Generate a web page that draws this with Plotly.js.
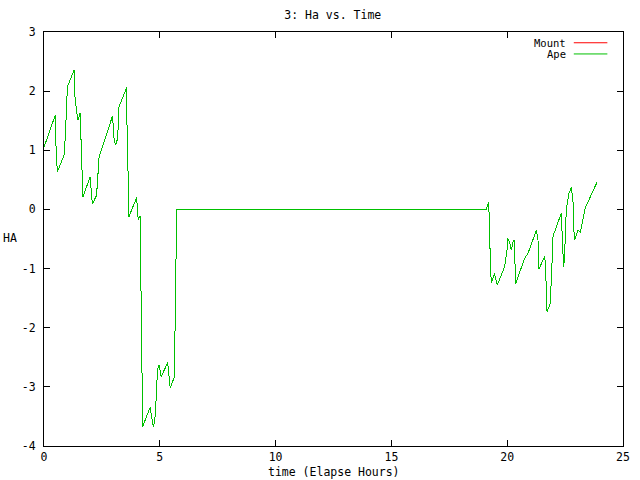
<!DOCTYPE html>
<html>
<head>
<meta charset="utf-8">
<script src="https://cdn.plot.ly/plotly-3.0.1.min.js"></script>
<style>
html,body{margin:0;padding:0;background:#fff;}
#chart{width:640px;height:480px;}
#chart .js-line{shape-rendering:crispEdges;}
</style>
</head>
<body>
<div id="chart"></div>
<script>
// time (elapsed hours)
const apeTime = [0.00,0.49,0.50,0.53,0.58,0.87,0.92,0.98,1.01,1.30,1.33,1.42,1.47,1.56,1.59,1.65,1.68,1.99,2.02,2.09,2.27,2.34,2.38,2.95,2.99,3.03,3.09,3.18,3.24,3.57,3.58,3.64,3.67,4.00,4.07,4.15,4.17,4.22,4.26,4.58,4.68,4.72,4.77,4.82,4.87,4.91,4.97,5.06,5.34,5.37,5.41,5.45,5.63,5.66,5.71,5.73,19.09,19.16,19.21,19.22,19.27,19.31,19.45,19.52,19.57,19.89,19.93,19.99,20.03,20.10,20.18,20.25,20.31,20.33,20.36,20.75,20.90,21.26,21.33,21.37,21.62,21.66,21.69,21.72,21.86,21.90,21.95,21.98,22.34,22.38,22.44,22.48,22.53,22.59,22.67,22.77,22.84,22.87,22.91,23.06,23.16,23.35,23.40,23.89];
const apeHA = [1.05,1.60,1.37,0.89,0.64,0.92,1.23,1.79,2.07,2.36,1.93,1.62,1.51,1.63,1.29,0.58,0.21,0.55,0.41,0.09,0.24,0.72,0.89,1.57,1.43,1.17,1.09,1.20,1.74,2.06,1.51,0.43,-0.12,0.20,-0.18,-0.11,-1.00,-2.77,-3.67,-3.35,-3.59,-3.67,-3.61,-3.39,-2.94,-2.69,-2.63,-2.83,-2.59,-2.74,-2.90,-3.02,-2.83,-2.10,-0.69,0.00,0.00,0.06,0.12,-0.24,-0.91,-1.25,-1.08,-1.19,-1.28,-0.97,-0.86,-0.69,-0.49,-0.55,-0.69,-0.55,-0.52,-1.02,-1.26,-0.83,-0.74,-0.35,-0.52,-1.01,-0.79,-1.01,-1.48,-1.73,-1.59,-1.31,-0.77,-0.45,-0.06,-0.52,-0.98,-0.77,-0.18,0.10,0.28,0.37,0.16,-0.29,-0.52,-0.35,-0.38,-0.01,0.05,0.47];
const mountTime = apeTime.slice();
const mountHA = apeHA.slice();
const xTickVals = [0,5,10,15,20,25];
const yTickVals = [-4,-3,-2,-1,0,1,2,3];

const FONT = "DejaVu Sans Mono, monospace";
const traces = [
  {x: mountTime, y: mountHA, mode: 'lines', name: 'Mount', line: {color: '#ff0000', width: 1}},
  {x: apeTime, y: apeHA, mode: 'lines', name: 'Ape', line: {color: '#00c000', width: 1}}
];
const axisCommon = {
  showgrid: false, zeroline: false, showline: true, linecolor: '#000', linewidth: 1,
  mirror: 'ticks', ticks: 'inside', ticklen: 6, tickcolor: '#000', tickwidth: 1,
  tickfont: {family: FONT, size: 11.5, color: '#000'}, tickmode: 'array'
};
const layout = {
  width: 640, height: 480,
  margin: {l: 44, r: 17, t: 32, b: 34},
  paper_bgcolor: '#fff', plot_bgcolor: '#fff',
  showlegend: false,
  title: {text: '3: Ha vs. Time', font: {family: FONT, size: 11.5, color: '#000'}, x: 0.52, xanchor: 'center', y: 0.968, yanchor: 'middle'},
  xaxis: Object.assign({}, axisCommon, {range: [0, 25], tickvals: xTickVals, ticktext: xTickVals.map(String), ticklabelstandoff: 0}),
  yaxis: Object.assign({}, axisCommon, {range: [-4, 3], tickvals: yTickVals, ticktext: yTickVals.map(String), ticklabelstandoff: 5}),
  annotations: [
    {text: 'time (Elapse Hours)', xref: 'paper', yref: 'paper', x: 0.5, y: -0.063, showarrow: false, xanchor: 'center', yanchor: 'middle', font: {family: FONT, size: 11.5, color: '#000'}},
    {text: 'HA', xref: 'paper', yref: 'paper', x: -0.058, y: 0.502, showarrow: false, xanchor: 'center', yanchor: 'middle', font: {family: FONT, size: 11.5, color: '#000'}},
    {text: 'Mount', xref: 'paper', yref: 'paper', x: 0.905, y: 0.974, showarrow: false, xanchor: 'right', yanchor: 'middle', font: {family: FONT, size: 10.5, color: '#000'}},
    {text: 'Ape', xref: 'paper', yref: 'paper', x: 0.905, y: 0.946, showarrow: false, xanchor: 'right', yanchor: 'middle', font: {family: FONT, size: 10.5, color: '#000'}}
  ],
  shapes: [
    {type: 'line', xref: 'paper', yref: 'paper', x0: 0.915, x1: 0.973, y0: 0.974, y1: 0.974, line: {color: '#ff0000', width: 1}},
    {type: 'line', xref: 'paper', yref: 'paper', x0: 0.915, x1: 0.973, y0: 0.947, y1: 0.947, line: {color: '#00c000', width: 1}}
  ]
};
Plotly.newPlot('chart', traces, layout, {staticPlot: true, displayModeBar: false});
</script>
</body>
</html>
